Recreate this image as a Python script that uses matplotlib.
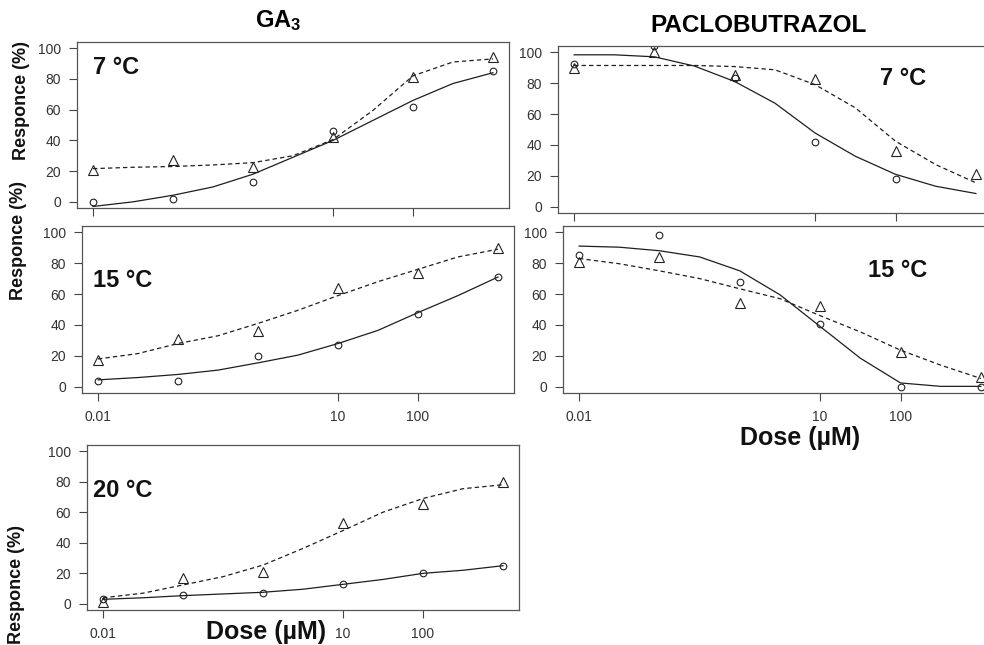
import numpy as np
import matplotlib
matplotlib.use('Agg')
import matplotlib.pyplot as plt

plt.rcParams['font.family'] = ['Liberation Sans', 'DejaVu Sans']
plt.rcParams['mathtext.fontset'] = 'custom'
plt.rcParams['mathtext.bf'] = 'Liberation Sans:bold'
plt.rcParams['mathtext.rm'] = 'Liberation Sans'

# ---------------- data ----------------
dose = [0.01, 0.1, 1, 10, 100, 1000]
curve_dose = [0.01, 0.0316, 0.1, 0.316, 1, 3.16, 10, 31.6, 100, 316, 1000]
xtick_vals = [0.01, 10, 100]
xtick_labels = ['0.01', '10', '100']
ytick_vals = [0, 20, 40, 60, 80, 100]

# GA3 7 °C
ga7_tri = [21, 27, 23, 42, 81, 94]
ga7_cir = [0, 2, 13, 46, 62, 85]
ga7_solid = [-3, 0, 4.3, 9.7, 18, 29, 40, 53, 66, 77, 84]
ga7_dash = [21.6, 22.5, 23, 24, 25.5, 30, 40.5, 59.5, 82, 91, 93]

# GA3 15 °C
ga15_tri = [17.5, 31, 36, 64, 73.5, 90]
ga15_cir = [3.5, 3.5, 20, 27, 47, 71]
ga15_solid = [4.5, 6, 8, 10.8, 15.5, 20.5, 28, 36.5, 48, 59, 71]
ga15_dash = [18, 21.5, 28, 33, 41, 49.5, 59, 68, 76, 84, 89]

# GA3 20 °C
ga20_tri = [1.5, 17, 21, 53, 65.5, 80]
ga20_cir = [3, 5.5, 7, 13, 20, 25]
ga20_solid = [3, 4, 5.4, 6.5, 7.6, 9.6, 12.8, 16, 20, 22, 25]
ga20_dash = [4, 7, 12.4, 17.8, 25.4, 36.3, 48, 60, 69, 75.4, 78]

# Paclobutrazol 7 °C
pb7_tri = [89.5, 100, 85.5, 82.5, 36, 21]
pb7_cir = [92.5, 104, 83, 42, 18, np.nan]
pb7_solid = [98.3, 98.3, 97, 91, 81, 67, 47.7, 32.7, 21, 13.3, 8.6]
pb7_dash = [91.4, 91.4, 91.4, 91.4, 90.7, 88.6, 79, 64, 42.4, 27.3, 15.5]

# Paclobutrazol 15 °C
pb15_tri = [80.5, 84, 54, 52.5, 22.5, 6.5]
pb15_cir = [85, 98.5, 67.5, 40.5, 0, 0]
pb15_solid = [91, 90.3, 88, 84, 75, 59.5, 39, 18.5, 2.5, 0.3, 0.3]
pb15_dash = [83, 79.6, 75, 70, 63.4, 57, 46, 35.5, 23.7, 14, 5.4]

# ---------------- figure ----------------
W, H = 984, 645
fig = plt.figure(figsize=(W / 100, H / 100), dpi=100)

def add_ax(left, right, top, bottom):
    return fig.add_axes([left / W, 1 - bottom / H, (right - left) / W, (bottom - top) / H])

LC = '#1e1e1e'
SPINE = '#555555'

def panel(box, tri, cir, solid, dash, show_xlabels):
    ax = add_ax(*box)
    ax.set_xscale('log')
    ax.plot(curve_dose, solid, color=LC, lw=0.9, ls='-')
    ax.plot(curve_dose, dash, color=LC, lw=0.9, ls=(0, (3.5, 2.5)))
    ax.plot(dose, cir, ls='none', marker='o', ms=4.8, mfc='none', mec='#222222', mew=0.8)
    ax.plot(dose, tri, ls='none', marker='^', ms=6.5, mfc='none', mec='#222222', mew=0.8)
    ax.set_xlim(10 ** -2.2, 10 ** 3.2)
    ax.set_ylim(-4, 104)
    ax.set_xticks(xtick_vals)
    ax.xaxis.set_minor_locator(matplotlib.ticker.NullLocator())
    if show_xlabels:
        ax.set_xticklabels(xtick_labels)
    else:
        ax.set_xticklabels([])
    ax.set_yticks(ytick_vals)
    ax.tick_params(axis='both', direction='out', length=5.5, width=0.8,
                   color='#444444', labelsize=10, labelcolor='#333333')
    ax.tick_params(axis='y', pad=6)
    ax.tick_params(axis='x', pad=7)
    for s in ax.spines.values():
        s.set_color(SPINE)
        s.set_linewidth(0.9)
    return ax

panel((77, 509, 42, 208), ga7_tri, ga7_cir, ga7_solid, ga7_dash, False)
panel((82, 514, 226, 393), ga15_tri, ga15_cir, ga15_solid, ga15_dash, True)
panel((87, 519, 445, 610), ga20_tri, ga20_cir, ga20_solid, ga20_dash, True)
panel((558, 992, 46, 213), pb7_tri, pb7_cir, pb7_solid, pb7_dash, False)
panel((563, 997, 226, 393), pb15_tri, pb15_cir, pb15_solid, pb15_dash, True)

def ftext(x, y, s, **kw):
    fig.text(x / W, 1 - y / H, s, **kw)

# titles
ftext(278, 27, r'$\mathbf{GA_3}$', fontsize=17, ha='center', va='baseline')
ftext(758, 32, 'PACLOBUTRAZOL', fontsize=17.5, fontweight='bold', ha='center', va='baseline')

# temperature labels
tk = dict(fontsize=17, fontweight='bold', ha='left', va='baseline', color='#111111')
ftext(93, 74, '7 °C', **tk)
ftext(93, 287, '15 °C', **tk)
ftext(93, 497, '20 °C', **tk)
ftext(880, 85, '7 °C', **tk)
ftext(868, 277, '15 °C', **tk)

# dose labels
dk = dict(fontsize=18, fontweight='bold', ha='center', va='baseline', color='#111111')
ftext(266, 639, 'Dose (µM)', **dk)
ftext(800, 445, 'Dose (µM)', **dk)

# y labels
yk = dict(fontsize=13, fontweight='bold', ha='center', va='center', rotation=90, color='#111111')
ftext(22, 101, 'Responce (%)', **yk)
ftext(19, 241, 'Responce (%)', **yk)
ftext(17, 585, 'Responce (%)', **yk)

fig.savefig('out.png', dpi=100, facecolor='white')
